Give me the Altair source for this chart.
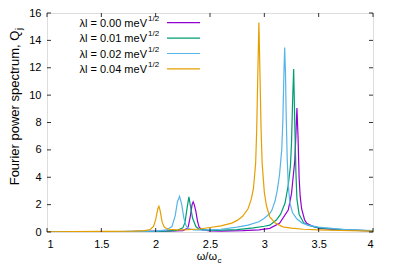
import altair as alt
import pandas as pd

# ---- data ----
labels = ["0.00", "0.01", "0.02", "0.04"]
colors = ["#9400d3", "#009e73", "#56b4e9", "#e69f00"]

x_000 = [1.0, 1.5, 1.9, 2.1, 2.25, 2.29, 2.30, 2.32, 2.335, 2.345, 2.355, 2.37, 2.385, 2.4, 2.43, 2.5, 2.6,
         2.8, 2.95, 3.05, 3.14, 3.22, 3.25, 3.28, 3.29, 3.30, 3.31, 3.32, 3.33, 3.343, 3.37, 3.39, 3.45,
         3.51, 3.7, 4.0]
y_000 = [0.01, 0.02, 0.04, 0.06, 0.1, 0.25, 0.4, 1.2, 2.0, 2.2, 2.0, 1.5, 0.8, 0.35, 0.15, 0.08, 0.07,
         0.1, 0.15, 0.27, 0.63, 1.6, 2.8, 5.2, 7.0, 9.05, 7.0, 4.0, 2.6, 1.7, 0.9, 0.63, 0.4,
         0.27, 0.15, 0.08]

x_001 = [1.0, 1.5, 1.9, 2.1, 2.2, 2.25, 2.27, 2.29, 2.306, 2.32, 2.34, 2.37, 2.4, 2.5, 2.6, 2.75, 2.9,
         3.0, 3.05, 3.11, 3.15, 3.19, 3.22, 3.24, 3.25, 3.26, 3.27, 3.28, 3.29, 3.30, 3.32, 3.36, 3.4,
         3.5, 3.75, 4.0]
y_001 = [0.01, 0.02, 0.04, 0.07, 0.12, 0.3, 0.7, 1.8, 2.56, 1.9, 1.0, 0.4, 0.2, 0.12, 0.13, 0.18, 0.3,
         0.42, 0.5, 0.87, 1.3, 2.1, 3.4, 4.8, 6.5, 9.5, 11.9, 8.0, 4.5, 2.4, 1.3, 0.7, 0.5,
         0.3, 0.15, 0.08]

x_002 = [1.0, 1.5, 1.8, 2.0, 2.1, 2.15, 2.18, 2.2, 2.22, 2.24, 2.26, 2.28, 2.3, 2.35, 2.45, 2.6, 2.75,
         2.85, 2.95, 3.0, 3.05, 3.07, 3.1, 3.12, 3.14, 3.16, 3.17, 3.18, 3.187, 3.195, 3.2, 3.21, 3.22,
         3.235, 3.26, 3.3, 3.35, 3.4, 3.5, 3.57, 3.75, 4.0]
y_002 = [0.01, 0.02, 0.04, 0.07, 0.15, 0.4, 1.2, 2.2, 2.6, 2.0, 1.0, 0.45, 0.25, 0.15, 0.14, 0.2, 0.35,
         0.5, 0.75, 1.0, 1.35, 1.6, 2.3, 3.1, 4.2, 6.0, 8.0, 11.5, 13.48, 11.5, 9.0, 5.5, 3.5,
         2.1, 1.4, 0.95, 0.65, 0.5, 0.35, 0.3, 0.18, 0.1]

x_004 = [1.0, 1.5, 1.8, 1.9, 1.95, 1.98, 2.0, 2.02, 2.03, 2.04, 2.06, 2.08, 2.12, 2.2, 2.3, 2.4, 2.5,
         2.6, 2.7, 2.75, 2.8, 2.85, 2.88, 2.9, 2.92, 2.93, 2.94, 2.95, 2.96, 2.97, 2.98, 3.0, 3.02,
         3.05, 3.1, 3.17, 3.25, 3.36, 3.5, 3.7, 4.0]
y_004 = [0.02, 0.04, 0.07, 0.1, 0.18, 0.4, 0.9, 1.7, 1.88, 1.6, 0.7, 0.35, 0.2, 0.15, 0.17, 0.22, 0.33,
         0.45, 0.65, 0.85, 1.15, 1.7, 2.4, 3.2, 5.0, 7.5, 11.5, 15.3, 11.5, 7.5, 5.0, 2.9, 1.9,
         1.1, 0.65, 0.38, 0.28, 0.2, 0.15, 0.11, 0.07]

x_ticks = [1, 1.5, 2, 2.5, 3, 3.5, 4]
y_ticks = [0, 2, 4, 6, 8, 10, 12, 14, 16]

# ---- build table ----
rows = []
for lab, xs, ys in zip(labels, [x_000, x_001, x_002, x_004], [y_000, y_001, y_002, y_004]):
    for a, b in zip(xs, ys):
        rows.append({"series": lab, "w": a, "Q": b})
df = pd.DataFrame(rows)

PAD_TOP = 5
W, H = 326, 224 - PAD_TOP
DY = 3 - PAD_TOP  # shift for positions measured relative to a plot top at padding 3
FONT = "Liberation Sans"
TL = 4  # tick length

xscale = alt.Scale(domain=[1, 4], nice=False, zero=False)
yscale = alt.Scale(domain=[0, 16], nice=False, zero=True)
ax_x = alt.Axis(values=x_ticks, ticks=False, domain=False, grid=False, format="~g",
                labelFontSize=11, labelFont=FONT, labelColor="black", labelPadding=6, title=None)
ax_y = alt.Axis(values=y_ticks, ticks=False, domain=False, grid=False,
                labelFontSize=11, labelFont=FONT, labelColor="black", labelPadding=6, title=None)

lines = alt.Chart(df).mark_line(strokeWidth=1.2, clip=True).encode(
    x=alt.X("w:Q", scale=xscale, axis=ax_x),
    y=alt.Y("Q:Q", scale=yscale, axis=ax_y),
    color=alt.Color("series:N", scale=alt.Scale(domain=labels, range=colors), legend=None),
)

xt = pd.DataFrame({"t": x_ticks})
yt = pd.DataFrame({"t": y_ticks})
tick_style = dict(color="black", strokeWidth=0.8)
xb = alt.Chart(xt).mark_rule(**tick_style).encode(
    x=alt.X("t:Q", scale=xscale, axis=ax_x), y=alt.value(H), y2=alt.value(H - TL))
xtop = alt.Chart(xt).mark_rule(**tick_style).encode(
    x=alt.X("t:Q", scale=xscale, axis=ax_x), y=alt.value(0), y2=alt.value(TL))
yl = alt.Chart(yt).mark_rule(**tick_style).encode(
    y=alt.Y("t:Q", scale=yscale, axis=ax_y), x=alt.value(0), x2=alt.value(TL))
yr = alt.Chart(yt).mark_rule(**tick_style).encode(
    y=alt.Y("t:Q", scale=yscale, axis=ax_y), x=alt.value(W - TL), x2=alt.value(W))

one = pd.DataFrame({"a": [0]})
layers = [lines, xb, xtop, yl, yr]

# legend (gnuplot style: text right-aligned, sample line at right)
for i, (lab, col) in enumerate(zip(labels, colors)):
    yy = 11.7 + 15.4 * i + DY
    layers.append(alt.Chart(one).mark_text(align="right", baseline="middle", fontSize=11, font=FONT,
                                           color="black", text=f"λl = {lab} meV").encode(
        x=alt.value(100), y=alt.value(yy + 1)))
    layers.append(alt.Chart(one).mark_text(align="left", baseline="middle", fontSize=8, font=FONT,
                                           color="black", text="1/2").encode(
        x=alt.value(101), y=alt.value(yy - 4)))
    layers.append(alt.Chart(one).mark_rule(color=col, strokeWidth=1.2).encode(
        x=alt.value(120), x2=alt.value(153), y=alt.value(yy)))

# axis titles with subscripts
layers.append(alt.Chart(one).mark_text(align="right", baseline="middle", fontSize=11, font=FONT,
                                       color="black", text="ω/ω").encode(
    x=alt.value(170), y=alt.value(246 + DY)))
layers.append(alt.Chart(one).mark_text(align="left", baseline="middle", fontSize=8, font=FONT,
                                       color="black", text="c").encode(
    x=alt.value(170.5), y=alt.value(250 + DY)))
layers.append(alt.Chart(one).mark_text(align="center", baseline="middle", fontSize=13, font=FONT,
                                       color="black", angle=270,
                                       text="Fourier power spectrum, Q").encode(
    x=alt.value(-32), y=alt.value(97 + DY)))
layers.append(alt.Chart(one).mark_text(align="left", baseline="middle", fontSize=9, font=FONT,
                                       color="black", angle=270, text="j").encode(
    x=alt.value(-28.5), y=alt.value(19 + DY)))

chart = alt.layer(*layers).properties(
    width=W, height=H,
    autosize=alt.AutoSizeParams(type="none"),
    padding={"left": 39, "top": PAD_TOP, "right": 18, "bottom": 39},
).configure_view(stroke="black", strokeWidth=1).configure(background="white")

chart.save("out.html", embed_options={"renderer": "svg", "actions": False})
